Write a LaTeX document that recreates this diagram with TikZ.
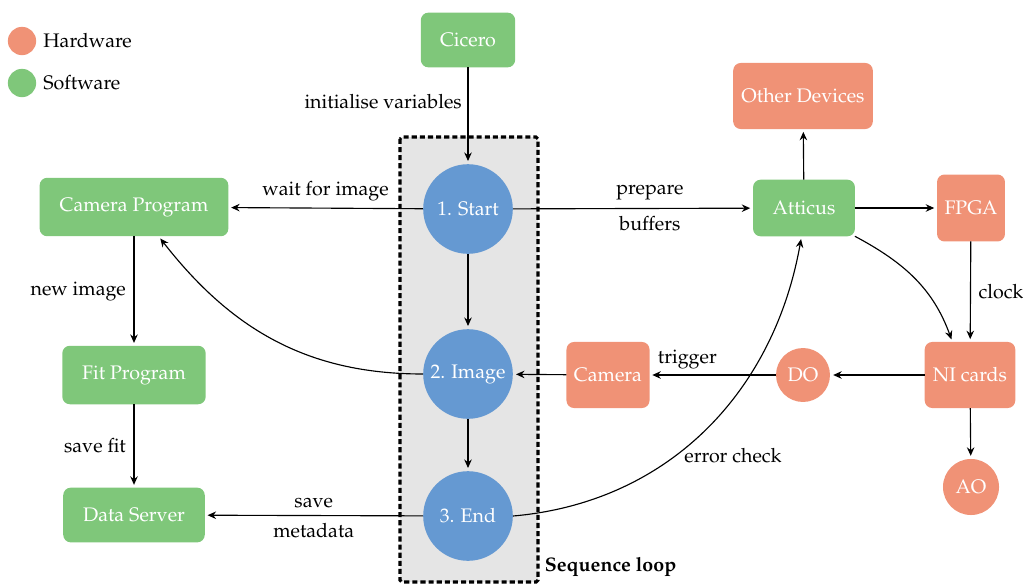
\documentclass[tikz,border=0pt]{standalone}
\usepackage[T1]{fontenc}
\usepackage{mathpazo}
\usetikzlibrary{arrows.meta,calc}
\definecolor{hw}{RGB}{240,146,118}
\definecolor{sw}{RGB}{127,199,122}
\definecolor{seq}{RGB}{101,153,210}
\definecolor{loopbg}{RGB}{229,229,229}
\tikzset{
  box/.style={rectangle, rounded corners=4pt, text=white, inner sep=0pt, outer sep=0pt},
  hwbox/.style={box, fill=hw},
  swbox/.style={box, fill=sw},
  seqnode/.style={circle, fill=seq, text=white, minimum size=47.5pt, inner sep=0pt},
  hwcirc/.style={circle, fill=hw, text=white, inner sep=0pt},
  legdot/.style={circle, inner sep=0pt, minimum size=15pt},
  conn/.style={-{Stealth[length=4.5pt,width=4pt,inset=1.5pt]}, line width=0.6pt, shorten >=1.5pt},
  lbl/.style={text=black, inner sep=4pt}
}
\begin{document}
\fontsize{10.4pt}{12.5pt}\selectfont
\begin{tikzpicture}[x=0.53pt,y=-0.53pt]
\useasboundingbox (0,0) rectangle (1026,586);
% sequence loop box
\draw[fill=loopbg, line width=1.6pt, dash pattern=on 2.7pt off 1.6pt, rounded corners=1pt] (400,137) rectangle (538,582);
\node[anchor=west, font=\bfseries] (seqlbl) at (538,567) {Sequence loop};
% legend
\node[legdot, fill=hw] (leghw) at (22,41) {};
\node[anchor=west, inner sep=0pt] (leghwt) at (43,41) {Hardware};
\node[legdot, fill=sw] (legsw) at (22,83) {};
\node[anchor=west, inner sep=0pt] (legswt) at (43,83) {Software};
% nodes
\node[swbox, minimum width=50pt, minimum height=29pt] (cicero) at (468,40) {Cicero};
\node[hwbox, minimum width=74pt, minimum height=35pt] (other) at (803,96) {Other Devices};
\node[swbox, minimum width=100pt, minimum height=31pt] (camprog) at (134,207) {Camera Program};
\node[seqnode] (start) at (468,209) {1. Start};
\node[swbox, minimum width=54pt, minimum height=30pt] (atticus) at (804,208) {Atticus};
\node[hwbox, minimum width=36pt, minimum height=35.5pt] (fpga) at (971,208) {FPGA};
\node[swbox, minimum width=76pt, minimum height=31pt] (fit) at (134,375) {Fit Program};
\node[seqnode] (image) at (468,374) {2. Image};
\node[hwbox, minimum width=44pt, minimum height=35pt] (camera) at (608,375) {Camera};
\node[hwcirc, minimum size=28.6pt] (do) at (803,375) {DO};
\node[hwbox, minimum width=48pt, minimum height=35pt] (ni) at (970,375) {NI cards};
\node[hwcirc, minimum size=29.7pt] (ao) at (971,487) {AO};
\node[swbox, minimum width=75pt, minimum height=29pt] (ds) at (134,515) {Data Server};
\node[seqnode] (end) at (468,516) {3. End};
% connectors
\draw[conn] (cicero) -- node[lbl, pos=0.35, left, inner sep=3pt] {initialise variables} (start);
\draw[conn] (start) -- node[lbl, midway, above, inner sep=3.5pt] {wait for image} (camprog);
\draw[conn] (start) -- node[lbl, pos=0.57, above] {prepare} node[lbl, pos=0.57, below] {buffers} (atticus);
\draw[conn] (start) -- (image);
\draw[conn] (image) -- (end);
\draw[conn] (image.west) to[out=180, in=-52] (camprog.-50);
\draw[conn] (camprog) -- node[lbl, midway, left] {new image} (fit);
\draw[conn] (fit) -- node[lbl, midway, left] {save fit} (ds);
\draw[conn] (end) -- node[lbl, midway, above] {save} node[lbl, midway, below] {metadata} (ds);
\draw[conn] (end.east) to[out=5, in=-100] (atticus.-95);
\node[lbl] (errlbl) at (733,456) {error check};
\draw[conn] (atticus) -- (other);
\draw[conn] (atticus) -- (fpga);
\draw[conn] (atticus.south east) to[out=-28, in=110] (ni.118);
\draw[conn] (fpga) -- node[lbl, midway, right] {clock} (ni);
\draw[conn] (ni) -- (do);
\draw[conn] (do) -- node[lbl, pos=0.7, above, inner sep=3pt] {trigger} (camera);
\draw[conn] (camera) -- (image);
\draw[conn] (ni) -- (ao);
\end{tikzpicture}
\end{document}
